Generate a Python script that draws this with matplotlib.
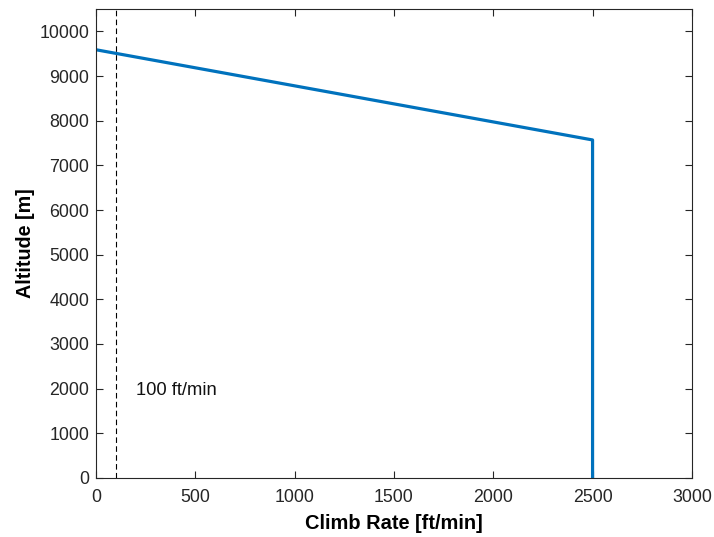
import numpy as np
import matplotlib.pyplot as plt

plt.rcParams['font.family'] = ['Liberation Sans', 'DejaVu Sans']

# climb-rate profile vs altitude
climb_rate = [0, 2500, 2500]      # ft/min
altitude = [9590, 7570, 0]        # m
limit_rate = 100                  # ft/min
xticks = [0, 500, 1000, 1500, 2000, 2500, 3000]
yticks = list(range(0, 10001, 1000))

fig = plt.figure(figsize=(7.14, 5.37), dpi=100)
ax = fig.add_axes([0.1345, 0.110, 0.8345, 0.873])

ax.plot(climb_rate, altitude, color=(0, 0.447, 0.741), lw=2.3)
ax.axvline(limit_rate, color='k', ls=(0, (5, 3)), lw=0.8)
ax.text(200, 1950, '100 ft/min', fontsize=13.2, va='center', color='#111111')

ax.set_xlim(0, 3000)
ax.set_ylim(0, 10500)
ax.set_xticks(xticks)
ax.set_yticks(yticks)
ax.tick_params(direction='in', top=True, right=True, labelsize=12.8,
               colors='#262626', length=5, width=0.8)
ax.tick_params(axis='x', pad=8)
ax.tick_params(axis='y', pad=5)
for s in ax.spines.values():
    s.set_color('#262626')
    s.set_linewidth(0.8)

ax.set_xlabel('Climb Rate [ft/min]', fontsize=14.4, fontweight='bold', labelpad=6)
ax.set_ylabel('Altitude [m]', fontsize=14.2, fontweight='bold', labelpad=3)

fig.savefig('out.png', dpi=100)
